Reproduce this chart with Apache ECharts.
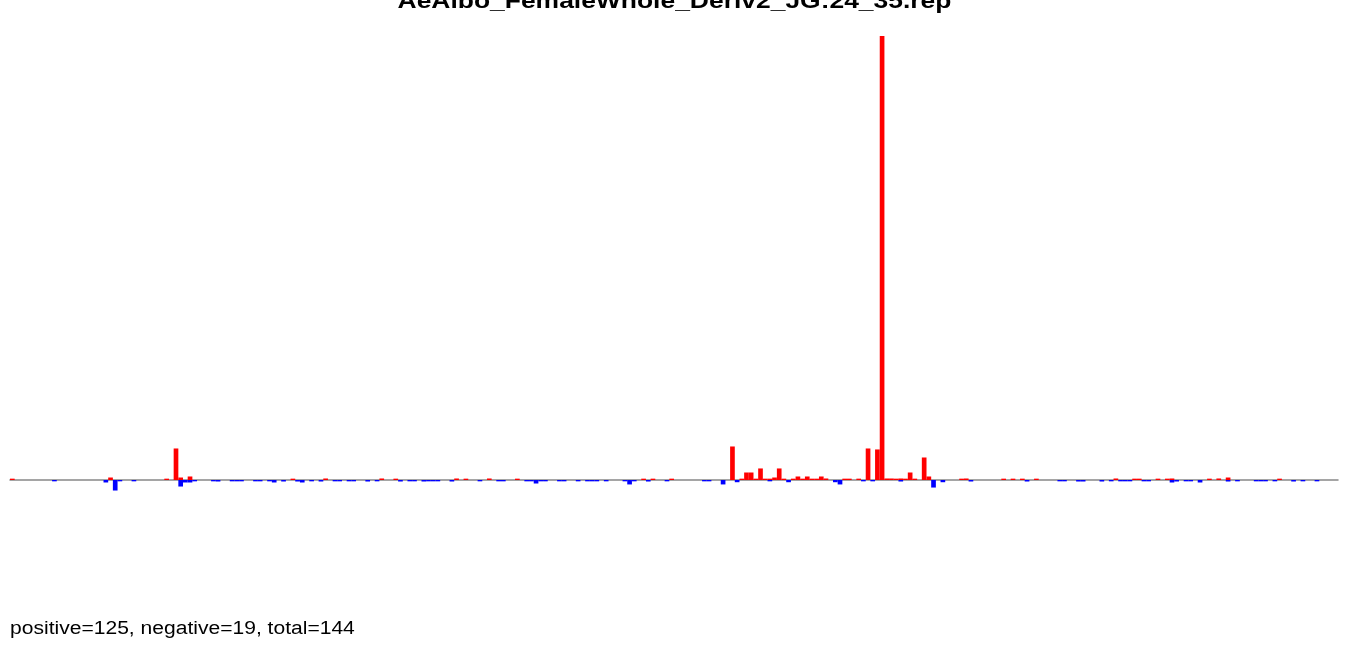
<!DOCTYPE html>
<html>
<head>
<meta charset="utf-8">
<script src="https://cdn.jsdelivr.net/npm/echarts@6/dist/echarts.min.js"></script>
<style>
html,body{margin:0;padding:0;background:#fff;}
#chart{width:1350px;height:645px;}
</style>
</head>
<body>
<div id="chart"></div>
<script>
// ---- data ----
var chartTitle = 'AeAlbo_FemaleWhole_Deriv2_JG:24_35.rep';
var footerText = 'positive=125, negative=19, total=144';
var binCount = 284;
// positive (red) bars: bin index and height
var posBins = [0,21,33,35,36,38,60,67,79,82,95,97,102,108,135,137,141,154,156,157,158,159,160,161,162,163,164,165,167,168,169,170,171,172,173,174,178,179,181,183,185,186,187,188,189,190,191,192,193,195,196,203,204,212,214,216,219,236,240,241,245,247,248,256,258,260,271];
var posHeights = [0.3,0.56,0.3,7.1,0.56,0.79,0.3,0.34,0.34,0.3,0.34,0.3,0.34,0.3,0.3,0.3,0.3,7.55,0.3,1.69,1.69,0.3,2.6,0.3,0.3,0.56,2.6,0.3,0.3,0.79,0.3,0.79,0.3,0.3,0.79,0.34,0.3,0.3,0.3,7.1,6.88,100,0.34,0.34,0.3,0.34,0.3,1.69,0.3,5.07,0.79,0.3,0.34,0.3,0.3,0.3,0.3,0.34,0.3,0.3,0.3,0.3,0.34,0.3,0.34,0.56,0.3];
// negative (blue) bars: bin index and height
var negBins = [9,20,22,23,26,36,37,38,39,43,44,47,48,49,52,53,55,56,58,61,62,64,66,69,70,72,73,76,78,83,85,86,88,89,90,91,94,100,104,105,110,111,112,113,114,117,118,121,123,124,125,127,131,132,133,136,140,148,149,152,155,162,166,176,177,182,184,190,197,199,205,217,224,225,228,229,233,235,237,238,239,242,243,248,249,251,252,254,260,262,266,267,268,270,274,276,279];
var negHeights = [-0.3,-0.56,-2.37,-0.3,-0.3,-1.47,-0.56,-0.56,-0.3,-0.3,-0.34,-0.3,-0.3,-0.3,-0.3,-0.3,-0.3,-0.56,-0.34,-0.34,-0.56,-0.3,-0.34,-0.3,-0.3,-0.3,-0.3,-0.34,-0.3,-0.34,-0.3,-0.3,-0.34,-0.3,-0.3,-0.3,-0.34,-0.3,-0.3,-0.3,-0.3,-0.3,-0.79,-0.3,-0.3,-0.3,-0.3,-0.3,-0.3,-0.3,-0.3,-0.3,-0.3,-1.0,-0.3,-0.34,-0.3,-0.3,-0.3,-1.0,-0.5,-0.3,-0.5,-0.5,-1.0,-0.3,-0.3,-0.34,-1.7,-0.5,-0.34,-0.34,-0.3,-0.3,-0.34,-0.34,-0.34,-0.3,-0.3,-0.3,-0.3,-0.3,-0.3,-0.56,-0.34,-0.3,-0.3,-0.56,-0.34,-0.3,-0.3,-0.3,-0.3,-0.3,-0.34,-0.3,-0.3];
var yMin = -25, yMax = 100;

// ---- build ----
var categories = [];
var posData = [], negData = [];
for (var i = 0; i < binCount; i++) { categories.push(String(i + 1)); posData.push(0); negData.push(0); }
posBins.forEach(function (b, k) { posData[b] = posHeights[k]; });
negBins.forEach(function (b, k) { negData[b] = negHeights[k]; });

var chart = echarts.init(document.getElementById('chart'));
chart.setOption({
  animation: false,
  backgroundColor: '#ffffff',
  grid: { left: 10, right: 12, top: 36, bottom: 54 },
  xAxis: {
    type: 'category', data: categories,
    axisLine: { show: true, onZero: true, lineStyle: { color: '#888888', width: 1.5 } },
    axisTick: { show: false }, axisLabel: { show: false }, splitLine: { show: false }
  },
  yAxis: { type: 'value', min: yMin, max: yMax, show: false, splitLine: { show: false } },
  series: [
    { type: 'bar', data: posData, barGap: '-100%', barCategoryGap: '0%', itemStyle: { color: '#ff0000' }, z: 3 },
    { type: 'bar', data: negData, barGap: '-100%', barCategoryGap: '0%', itemStyle: { color: '#0000ff' }, z: 3 }
  ],
  graphic: [
    { type: 'text', x: 674.5, y: 2, scaleX: 1.17, scaleY: 1,
      style: { text: chartTitle, x: 0, y: 0, font: 'bold 22.6px "Liberation Sans", Arial, sans-serif', fill: '#000',
               align: 'center', verticalAlign: 'middle', textAlign: 'center', textVerticalAlign: 'middle' } },
    { type: 'text', x: 10, y: 629.4, scaleX: 1.17, scaleY: 1,
      style: { text: footerText, x: 0, y: 0, font: '18px "Liberation Sans", Arial, sans-serif', fill: '#000',
               align: 'left', verticalAlign: 'middle', textAlign: 'left', textVerticalAlign: 'middle' } }
  ]
});
</script>
</body>
</html>
